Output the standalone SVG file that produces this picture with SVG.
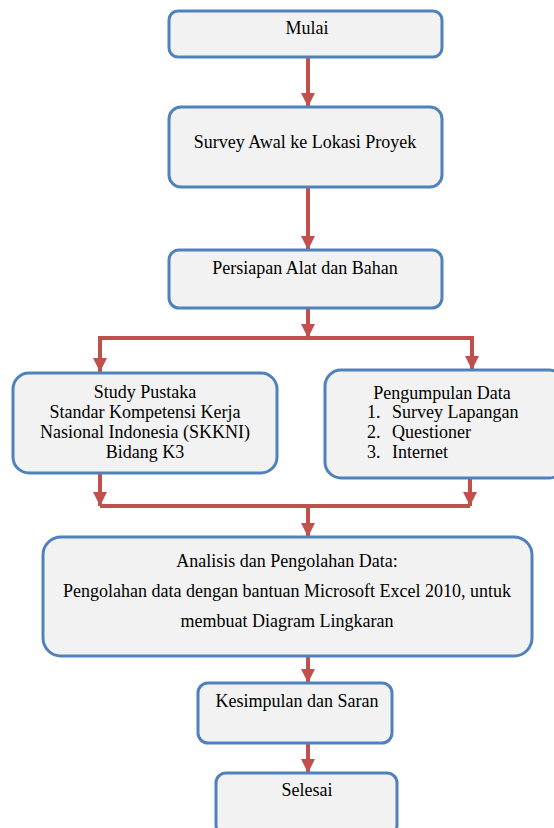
<svg xmlns="http://www.w3.org/2000/svg" width="554" height="828" viewBox="0 0 554 828">
<style>
.box{fill:#f2f2f2;stroke:#4f81bd;stroke-width:3}
text{font-family:"Liberation Serif","Times New Roman","DejaVu Serif",serif;font-size:18px;fill:#000}
.t{text-anchor:middle}
.c{fill:none;stroke:#c0504d;stroke-width:4}
</style>
<defs>
<marker id="ah" markerUnits="userSpaceOnUse" markerWidth="14" markerHeight="14" viewBox="0 0 14 14" refX="14" refY="7" orient="auto">
<path d="M0,0 L14,7 L0,14 Z" fill="#c0504d"/>
</marker>
</defs>
<rect width="554" height="828" fill="#fff"/>
<g id="connectors">
<line class="c" x1="308" y1="57" x2="308" y2="107" marker-end="url(#ah)"/>
<line class="c" x1="308" y1="187" x2="308" y2="250" marker-end="url(#ah)"/>
<line class="c" x1="308" y1="308" x2="308" y2="338" marker-end="url(#ah)"/>
<polyline class="c" points="100,372 100,338 472,338 472,370"/>
<line class="c" x1="100" y1="340" x2="100" y2="372" marker-end="url(#ah)"/>
<line class="c" x1="472" y1="340" x2="472" y2="370" marker-end="url(#ah)"/>
<line class="c" x1="100" y1="473" x2="100" y2="506" marker-end="url(#ah)"/>
<line class="c" x1="470" y1="478" x2="470" y2="506" marker-end="url(#ah)"/>
<line class="c" x1="100" y1="506" x2="470" y2="506"/>
<line class="c" x1="308" y1="506" x2="308" y2="537" marker-end="url(#ah)"/>
<line class="c" x1="308" y1="656" x2="308" y2="683" marker-end="url(#ah)"/>
<line class="c" x1="308" y1="743" x2="308" y2="773" marker-end="url(#ah)"/>
</g>
<g id="mulai">
<rect class="box" x="169" y="11" width="273" height="46" rx="9"/>
<text class="t" x="307" y="34">Mulai</text>
</g>
<g id="survey">
<rect class="box" x="169" y="107" width="273" height="80" rx="12"/>
<text class="t" x="305" y="148">Survey Awal ke Lokasi Proyek</text>
</g>
<g id="persiapan">
<rect class="box" x="169" y="250" width="273" height="58" rx="10"/>
<text class="t" x="305" y="274">Persiapan Alat dan Bahan</text>
</g>
<g id="study">
<rect class="box" x="13" y="373" width="264" height="100" rx="16"/>
<text class="t" x="145" y="398">Study Pustaka</text>
<text class="t" x="145" y="418">Standar Kompetensi Kerja</text>
<text class="t" x="145" y="438">Nasional Indonesia (SKKNI)</text>
<text class="t" x="145" y="458">Bidang K3</text>
</g>
<g id="pengumpulan">
<rect class="box" x="325" y="370" width="240" height="108" rx="16"/>
<text class="t" x="442" y="399">Pengumpulan Data</text>
<text x="367" y="418">1.</text>
<text x="392" y="418">Survey Lapangan</text>
<text x="367" y="438">2.</text>
<text x="392" y="438">Questioner</text>
<text x="367" y="458">3.</text>
<text x="392" y="458">Internet</text>
</g>
<g id="analisis">
<rect class="box" x="43" y="537" width="489" height="119" rx="18"/>
<text class="t" x="287" y="567">Analisis dan Pengolahan Data:</text>
<text class="t" x="287" y="597">Pengolahan data dengan bantuan Microsoft Excel 2010, untuk</text>
<text class="t" x="287" y="627">membuat Diagram Lingkaran</text>
</g>
<g id="kesimpulan">
<rect class="box" x="198" y="683" width="194" height="60" rx="10"/>
<text class="t" x="297" y="707">Kesimpulan dan Saran</text>
</g>
<g id="selesai">
<rect class="box" x="216" y="773" width="181" height="62" rx="10"/>
<text class="t" x="307" y="796">Selesai</text>
</g>
</svg>
